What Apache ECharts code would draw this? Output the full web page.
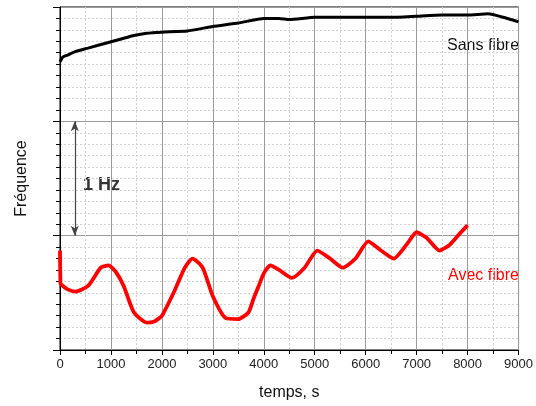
<!DOCTYPE html>
<html><head><meta charset="utf-8">
<script src="https://cdn.jsdelivr.net/npm/echarts@6/dist/echarts.min.js"></script>
<style>html,body{margin:0;padding:0;background:#fff;overflow:hidden}#c{width:536px;height:406px}</style>
</head><body><div id="c"></div>
<script>
// ---- data ----
const xTickLabels = ['0','1000','2000','3000','4000','5000','6000','7000','8000','9000'];
const sansFibreT = [0, 50, 150, 300, 550, 950, 1200, 1450, 1700, 2000, 2500, 3000, 3500, 4000, 4300, 4500, 5000, 5500, 6000, 6500, 7000, 7500, 8000, 8400, 8700, 9000];
const sansFibreV = [2.52, 2.56, 2.58, 2.61, 2.64, 2.69, 2.72, 2.75, 2.77, 2.78, 2.79, 2.83, 2.86, 2.90, 2.90, 2.89, 2.91, 2.91, 2.91, 2.91, 2.92, 2.93, 2.93, 2.94, 2.91, 2.87];
const avecFibreT = [0, 10, 30, 150, 300, 550, 800, 950, 1100, 1250, 1450, 1700, 1850, 2000, 2250, 2450, 2600, 2800, 3000, 3250, 3500, 3700, 3800, 3900, 4000, 4130, 4300, 4550, 4800, 5050, 5300, 5550, 5800, 6050, 6300, 6550, 6800, 7000, 7200, 7450, 7650, 7850, 8000];
const avecFibreV = [0.87, 0.58, 0.57, 0.53, 0.51, 0.56, 0.72, 0.74, 0.68, 0.56, 0.33, 0.24, 0.25, 0.30, 0.52, 0.72, 0.80, 0.72, 0.47, 0.28, 0.27, 0.33, 0.45, 0.56, 0.67, 0.74, 0.70, 0.63, 0.72, 0.87, 0.80, 0.72, 0.80, 0.95, 0.87, 0.80, 0.92, 1.03, 0.98, 0.87, 0.92, 1.02, 1.09];
const scaleBar = { t: 290, from: 1, to: 2, label: '1 Hz' };
const seriesNames = ['Sans fibre', 'Avec fibre'];
const axisNames = { x: 'temps, s', y: 'Fréquence' };

// ---- chart ----
const FONT = 'Arial, "Liberation Sans", sans-serif';
const zip = (a, b) => a.map((v, i) => [v, b[i]]);
const chart = echarts.init(document.getElementById('c'), null, { renderer: 'canvas' });
chart.setOption({
  animation: false,
  backgroundColor: '#fff',
  grid: { left: 60, right: 12, top: 7, bottom: 54, show: true, borderColor: '#000', borderWidth: 1, containLabel: false },
  xAxis: {
    type: 'value', min: 0, max: 9000, interval: 1000,
    name: axisNames.x, nameLocation: 'middle', nameGap: 35,
    nameTextStyle: { fontFamily: FONT, fontSize: 16, color: '#111' },
    axisLine: { show: true, lineStyle: { color: '#000', width: 1 } },
    axisTick: { show: true, inside: false, length: 5, lineStyle: { color: '#000' } },
    minorTick: { show: true, splitNumber: 2, length: 4, lineStyle: { color: '#000' } },
    axisLabel: { fontFamily: FONT, fontSize: 13, color: '#222', margin: 8,
      formatter: (v) => xTickLabels[Math.round(v / 1000)] },
    splitLine: { show: true, lineStyle: { color: '#9a9a9a', width: 1 } },
    minorSplitLine: { show: true, lineStyle: { color: '#d0d0d0', type: [2, 2], width: 1 } }
  },
  yAxis: {
    type: 'value', min: 0, max: 3, interval: 1,
    name: axisNames.y, nameLocation: 'middle', nameGap: 30,
    nameTextStyle: { fontFamily: FONT, fontSize: 16, color: '#111' },
    axisLine: { show: true, lineStyle: { color: '#000', width: 1 } },
    axisTick: { show: true, inside: false, length: 7, lineStyle: { color: '#000' } },
    minorTick: { show: true, splitNumber: 10, length: 4, lineStyle: { color: '#000' } },
    axisLabel: { show: false },
    splitLine: { show: true, lineStyle: { color: '#9a9a9a', width: 1 } },
    minorSplitLine: { show: true, lineStyle: { color: '#d0d0d0', type: [2, 2], width: 1 } }
  },
  series: [
    {
      name: seriesNames[0], type: 'line', showSymbol: false, smooth: 0.15,
      data: zip(sansFibreT, sansFibreV),
      lineStyle: { color: '#000', width: 3 },
      markLine: {
        silent: true, symbol: ['arrow', 'arrow'], symbolSize: [6, 10],
        label: { show: false },
        lineStyle: { color: '#444', type: 'solid', width: 1.2 },
        data: [[{ coord: [scaleBar.t, scaleBar.to] }, { coord: [scaleBar.t, scaleBar.from] }]]
      }
    },
    {
      name: seriesNames[1], type: 'line', showSymbol: false, smooth: 0.2,
      data: zip(avecFibreT, avecFibreV),
      lineStyle: { color: '#ff0000', width: 3.8 }
    }
  ],
  graphic: [
    { type: 'text', left: 447, top: 38, style: { text: seriesNames[0], fontFamily: FONT, fontSize: 16, fill: '#111' } },
    { type: 'text', left: 448, top: 268, style: { text: seriesNames[1], fontFamily: FONT, fontSize: 16, fill: '#ff0000' } },
    { type: 'text', left: 83, top: 176, style: { text: scaleBar.label, fontFamily: FONT, fontSize: 18, fontWeight: 'bold', fill: '#333' } }
  ]
});
</script>
</body></html>
